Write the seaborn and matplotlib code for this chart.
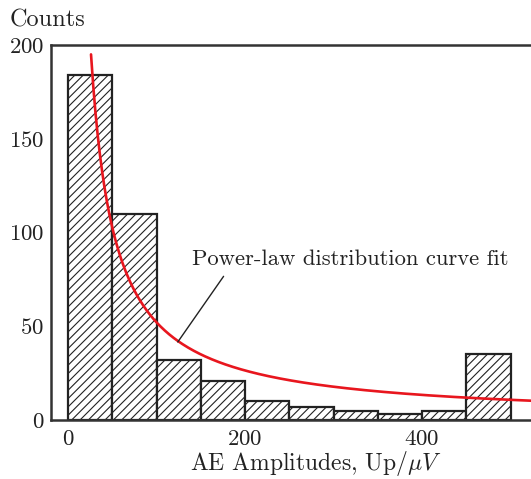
import numpy as np
import pandas as pd
import matplotlib
matplotlib.use("Agg")
import matplotlib.pyplot as plt
import seaborn as sns

# Data
bin_edges = [0, 50, 100, 150, 200, 250, 300, 350, 400, 450, 500]
counts = [184, 110, 32, 21, 10, 7, 5, 3, 5, 35]
# Power-law fit parameters (y = a * x^-b)
fit_a = 4750.0
fit_b = 0.98
fit_x_range = [26, 530]
x_ticks = [0, 200, 400]
y_ticks = [0, 50, 100, 150, 200]
annotation_text = "Power-law distribution curve fit"

sns.set_theme(style="white")
plt.rcParams["font.family"] = ["cmr10", "DejaVu Serif"]
plt.rcParams["mathtext.fontset"] = "cm"
plt.rcParams["axes.formatter.use_mathtext"] = True
plt.rcParams["hatch.linewidth"] = 0.8
plt.rcParams["hatch.color"] = "#222222"

fig = plt.figure(figsize=(5.31, 4.79), dpi=100)
ax = fig.add_axes([51 / 531, 59 / 479, 1 - 51 / 531, (420 - 45) / 479])

centers = [(bin_edges[i] + bin_edges[i + 1]) / 2 for i in range(len(counts))]
df = pd.DataFrame({"amp": centers, "count": counts})
sns.histplot(data=df, x="amp", weights="count", bins=bin_edges, ax=ax,
             color="white", edgecolor="#222222", linewidth=1.6, alpha=1)
for p in ax.patches:
    p.set_hatch("////")
    p.set_facecolor("white")
    p.set_edgecolor("#222222")

xc = np.linspace(fit_x_range[0], fit_x_range[1], 400)
yc = fit_a * xc ** (-fit_b)
sns.lineplot(x=xc, y=yc, ax=ax, color="#e8161e", linewidth=1.9)

ax.annotate(annotation_text, xy=(124, 41.6), xytext=(140, 86),
            fontsize=16.3, ha="left", va="center", color="#222222",
            arrowprops=dict(arrowstyle="-", color="#222222", lw=1.0,
                            shrinkA=0, shrinkB=0, relpos=(0.1, -0.4)))

ax.set_xlim(-19.2, 523)
ax.set_ylim(0, 200)
ax.set_xticks(x_ticks)
ax.set_yticks(y_ticks)
ax.tick_params(direction="in", length=7, width=1.2, colors="#333333",
               labelcolor="#222222", labelsize=16.5, pad=5)
ax.tick_params(axis="x", length=0, pad=7)
for s in ["left", "bottom", "top"]:
    ax.spines[s].set_color("#333333")
    ax.spines[s].set_linewidth(1.8)
ax.spines["right"].set_visible(False)
ax.set_ylabel("")
ax.set_xlabel("")
fig.text(316 / 531, 1 - 464 / 479, r"AE Amplitudes, Up$/\mu V$", fontsize=17,
         ha="center", va="center", color="#222222")
fig.text(10 / 531, 1 - 20 / 479, "Counts", fontsize=17.5, ha="left", va="center",
         color="#222222")

fig.savefig("out.png", dpi=100)
